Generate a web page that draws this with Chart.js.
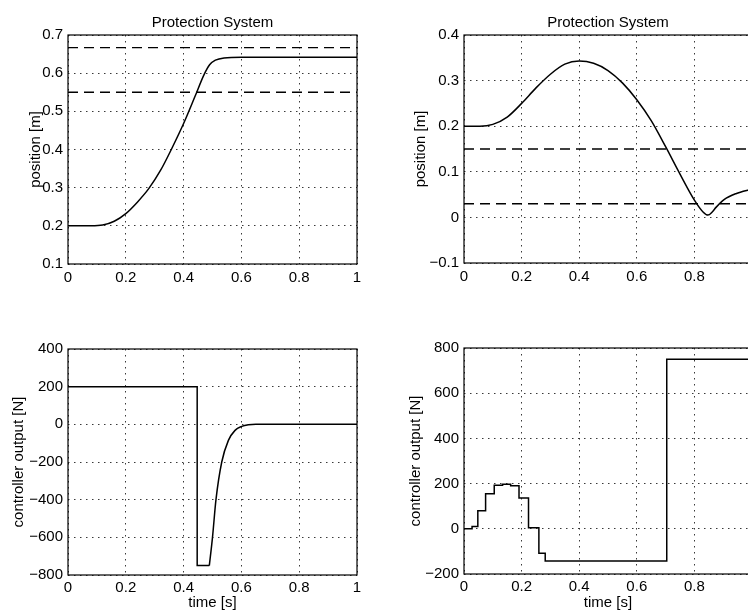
<!DOCTYPE html>
<html>
<head>
<meta charset="utf-8">
<script src="https://cdn.jsdelivr.net/npm/chart.js@4.4.1/dist/chart.umd.min.js"></script>
<style>
  html, body { margin: 0; padding: 0; background: #fff; overflow: hidden; }
  body { width: 748px; height: 615px; position: relative; }
  .plot { position: absolute; }
</style>
</head>
<body>
<div class="plot" style="left:0;top:0;width:370px;height:300px"><canvas id="chartA"></canvas></div>
<div class="plot" style="left:374px;top:0;width:391px;height:300px"><canvas id="chartB"></canvas></div>
<div class="plot" style="left:0;top:300px;width:370px;height:315px"><canvas id="chartC"></canvas></div>
<div class="plot" style="left:374px;top:300px;width:391px;height:315px"><canvas id="chartD"></canvas></div>
<script>
// shared
const timeTicks = [0, 0.2, 0.4, 0.6, 0.8, 1];

// top left: position, first case
const tA   = [0, 0.08, 0.12, 0.16, 0.2, 0.24, 0.28, 0.32, 0.36, 0.4, 0.44, 0.47, 0.49, 0.51, 0.54, 0.6, 1];
const posA = [0.2, 0.2, 0.202, 0.212, 0.232, 0.262, 0.298, 0.345, 0.404, 0.468, 0.54, 0.595, 0.622, 0.634, 0.64, 0.642, 0.642];
const limitsA = [0.667, 0.55];
const yTicksA = [0.1, 0.2, 0.3, 0.4, 0.5, 0.6, 0.7];

// top right: position, second case
const tB   = [0, 0.055, 0.1, 0.15, 0.2, 0.25, 0.3, 0.35, 0.4, 0.45, 0.5, 0.55, 0.6, 0.65, 0.7, 0.75, 0.8, 0.83, 0.847, 0.862, 0.875, 0.903, 0.944, 1];
const posB = [0.2, 0.2, 0.204, 0.22, 0.25, 0.284, 0.314, 0.336, 0.343, 0.338, 0.322, 0.295, 0.258, 0.212, 0.155, 0.095, 0.038, 0.012, 0.005, 0.012, 0.022, 0.039, 0.052, 0.062];
const limitsB = [0.15, 0.03];
const yTicksB = [-0.1, 0, 0.1, 0.2, 0.3, 0.4];

// bottom left: controller output, saturated part then recovery
const tC1 = [0, 0.447, 0.489];
const uC1 = [200, -750, -750];
const tC2 = [0.489, 0.5, 0.512, 0.532, 0.555, 0.578, 0.601, 0.624, 0.65, 0.8, 1];
const uC2 = [-750, -600, -400, -200, -85, -32, -11, -2, 0, 0, 0];
const yTicksC = [-800, -600, -400, -200, 0, 200, 400];

// bottom right: sampled controller output (zero order hold)
const tD = [0, 0.028, 0.048, 0.075, 0.105, 0.134, 0.162, 0.191, 0.224, 0.26, 0.282, 0.704, 1];
const uD = [0, 10, 80, 155, 193, 197, 190, 136, 5, -108, -142, 750, 750];
const yTicksD = [-200, 0, 200, 400, 600, 800];

Chart.defaults.font.family = '"Liberation Sans", Arial, Helvetica, sans-serif';
Chart.defaults.font.size = 15;
Chart.defaults.color = '#000';

function pts(xs, ys) {
  return xs.map((x, i) => ({ x: x, y: ys[i] }));
}

function fmt(v) {
  const s = String(Math.round(v * 1000) / 1000);
  return s.replace('-', '\u2212');
}

// solid frame around the plot area (matlab "box on")
const frame = {
  id: 'frame',
  afterDraw(chart) {
    const a = chart.chartArea;
    const ctx = chart.ctx;
    ctx.save();
    ctx.strokeStyle = '#000';
    ctx.lineWidth = 1.2;
    ctx.strokeRect(a.left, a.top, a.right - a.left, a.bottom - a.top);
    ctx.restore();
  }
};

function curve(data, extra) {
  return Object.assign({
    data: data,
    borderColor: '#000',
    borderWidth: 1.5,
    pointRadius: 0,
    fill: false
  }, extra || {});
}

function limitLine(y) {
  return curve(pts([0, 1], [y, y]), { borderDash: [10, 6], borderWidth: 1.4 });
}

function makeChart(id, o) {
  return new Chart(document.getElementById(id), {
    type: 'line',
    data: { datasets: o.datasets },
    plugins: [frame],
    options: {
      responsive: true,
      maintainAspectRatio: false,
      animation: false,
      layout: { padding: o.pad },
      plugins: {
        legend: { display: false },
        tooltip: { enabled: false },
        title: {
          display: !!o.title,
          text: o.title,
          fullSize: false,
          color: '#000',
          font: { size: 15, weight: 'normal' },
          padding: { top: 14, bottom: 3 }
        }
      },
      scales: {
        x: {
          type: 'linear',
          min: 0,
          max: 1,
          afterBuildTicks: s => { s.ticks = timeTicks.map(v => ({ value: v })); },
          afterFit: s => { s.height = o.xHeight; },
          ticks: { callback: v => fmt(v), padding: o.xTickPad, maxRotation: 0, autoSkip: false },
          grid: { color: '#222', lineWidth: 0.9, drawTicks: false },
          border: { display: false, dash: [1.5, 4.5] },
          title: { display: !!o.xLabel, text: o.xLabel, padding: { top: 0, bottom: 3 } }
        },
        y: {
          type: 'linear',
          min: o.yTicks[0],
          max: o.yTicks[o.yTicks.length - 1],
          afterBuildTicks: s => { s.ticks = o.yTicks.map(v => ({ value: v })); },
          afterFit: s => { s.width = o.yWidth; },
          ticks: { callback: v => fmt(v), padding: 5, autoSkip: false },
          grid: { color: '#222', lineWidth: 0.9, drawTicks: false },
          border: { display: false, dash: [1.5, 4.5] },
          title: { display: true, text: o.yLabel, padding: { top: o.yTitlePad, bottom: 0 } }
        }
      }
    }
  });
}

makeChart('chartA', {
  title: 'Protection System',
  datasets: [
    curve(pts(tA, posA), { cubicInterpolationMode: 'monotone' }),
    limitLine(limitsA[0]),
    limitLine(limitsA[1])
  ],
  yTicks: yTicksA, yLabel: 'position [m]',
  pad: { left: 0, right: 13, top: 0, bottom: 0 },
  yWidth: 68, xHeight: 36, yTitlePad: 27, xTickPad: 5
});

makeChart('chartB', {
  title: 'Protection System',
  datasets: [
    curve(pts(tB, posB), { cubicInterpolationMode: 'monotone' }),
    limitLine(limitsB[0]),
    limitLine(limitsB[1])
  ],
  yTicks: yTicksB, yLabel: 'position [m]',
  pad: { left: 0, right: 13, top: 0, bottom: 0 },
  yWidth: 90, xHeight: 37, yTitlePad: 38, xTickPad: 5
});

makeChart('chartC', {
  datasets: [
    curve(pts(tC1, uC1), { stepped: true }),
    curve(pts(tC2, uC2), { cubicInterpolationMode: 'monotone' })
  ],
  yTicks: yTicksC, yLabel: 'controller output [N]', xLabel: 'time [s]',
  pad: { left: 0, right: 13, top: 49, bottom: 0 },
  yWidth: 68, xHeight: 40, yTitlePad: 10, xTickPad: 4
});

makeChart('chartD', {
  datasets: [
    curve(pts(tD, uD), { stepped: true })
  ],
  yTicks: yTicksD, yLabel: 'controller output [N]', xLabel: 'time [s]',
  pad: { left: 0, right: 13, top: 48, bottom: 0 },
  yWidth: 90, xHeight: 41, yTitlePad: 33, xTickPad: 4
});
</script>
</body>
</html>
